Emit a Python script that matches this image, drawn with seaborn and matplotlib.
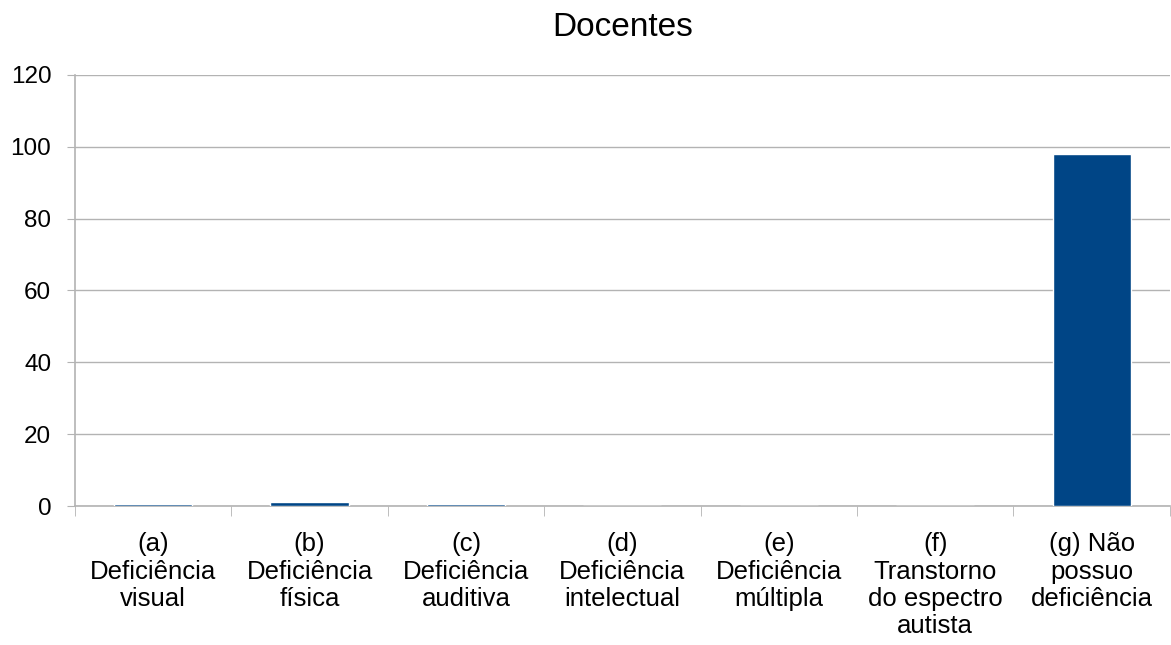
import numpy as np
import pandas as pd
import seaborn as sns
import matplotlib.pyplot as plt
from matplotlib.ticker import FixedLocator

categorias = ["(a)\nDeficiência\nvisual", "(b)\nDeficiência\nfísica", "(c)\nDeficiência\nauditiva",
              "(d)\nDeficiência\nintelectual", "(e)\nDeficiência\nmúltipla",
              "(f)\nTranstorno\ndo espectro\nautista", "(g) Não\npossuo\ndeficiência"]
valores = [0.5, 1.0, 0.5, 0, 0, 0, 98.0]

df = pd.DataFrame({"cat": categorias, "val": valores})

sns.set_style("white")
plt.rcParams["font.family"] = ["Liberation Sans", "DejaVu Sans"]

fig = plt.figure(figsize=(11.71, 6.45), dpi=100)
ax = fig.add_axes([0.064, 0.2155, 0.935, 0.6685])

sns.barplot(data=df, x="cat", y="val", color="#004586", width=0.5, saturation=1, ax=ax, zorder=3)

ax.set_ylim(0, 120)
ax.set_yticks(np.arange(0, 121, 20))
ax.set_xlim(-0.5, 6.5)
ax.yaxis.grid(True, color="#b3b3b3", linewidth=1, zorder=0)
ax.set_xlabel("")
ax.set_ylabel("")
ax.set_title("Docentes", fontsize=24, pad=28, color="black")

for s in ["top", "right"]:
    ax.spines[s].set_visible(False)
for s in ["left", "bottom"]:
    ax.spines[s].set_color("#b3b3b3")
    ax.spines[s].set_linewidth(1.2)

ax.tick_params(axis="y", labelsize=17.5, labelcolor="black", length=6, color="#b3b3b3",
               direction="out", left=True, pad=11)
ax.tick_params(axis="x", which="major", labelsize=18.5, labelcolor="black", length=0, pad=19)
ax.xaxis.set_minor_locator(FixedLocator(np.arange(-0.5, 7, 1)))
ax.tick_params(axis="x", which="minor", length=7, color="#b3b3b3", direction="out", bottom=True)
for lbl in ax.get_xticklabels():
    lbl.set_linespacing(1.17)
    lbl.set_verticalalignment("top")

fig.savefig("out.png", dpi=100)
